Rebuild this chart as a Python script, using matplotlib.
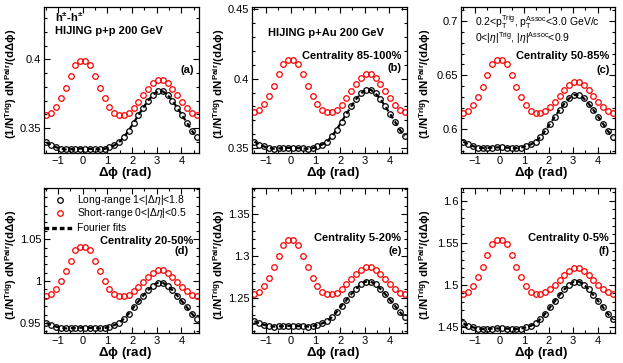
import numpy as np
import matplotlib
matplotlib.use("Agg")
import matplotlib.pyplot as plt
from matplotlib.ticker import MultipleLocator

plt.rcParams["font.family"] = ["Liberation Sans", "DejaVu Sans"]
plt.rcParams["mathtext.fontset"] = "custom"
plt.rcParams["mathtext.rm"] = "Liberation Sans"
plt.rcParams["mathtext.it"] = "Liberation Sans:italic"
plt.rcParams["mathtext.bf"] = "Liberation Sans:bold"

# 32 delta-phi bins over [-pi/2, 3pi/2)
N_BINS = 32
dphi = (np.arange(N_BINS) + 0.5) * (2 * np.pi / N_BINS) - np.pi / 2

# short-range (red) and long-range (black) per panel
a_red = [0.3597, 0.3612, 0.3655, 0.3720, 0.3795, 0.3880, 0.3960, 0.3990,
         0.3990, 0.3960, 0.3880, 0.3795, 0.3720, 0.3655, 0.3612, 0.3597,
         0.3597, 0.3612, 0.3645, 0.3690, 0.3740, 0.3785, 0.3825, 0.3852,
         0.3852, 0.3825, 0.3785, 0.3740, 0.3690, 0.3645, 0.3612, 0.3597]
a_blk = [0.3398, 0.3375, 0.3362, 0.3350, 0.3346, 0.3348, 0.3350, 0.3352,
         0.3352, 0.3350, 0.3348, 0.3346, 0.3350, 0.3362, 0.3375, 0.3398,
         0.3435, 0.3483, 0.3540, 0.3595, 0.3650, 0.3700, 0.3742, 0.3768,
         0.3768, 0.3742, 0.3700, 0.3650, 0.3595, 0.3540, 0.3483, 0.3435]

b_red = [0.3758, 0.3772, 0.3814, 0.3877, 0.3949, 0.4032, 0.4109, 0.4138,
         0.4138, 0.4109, 0.4032, 0.3949, 0.3877, 0.3814, 0.3772, 0.3758,
         0.3758, 0.3774, 0.3810, 0.3859, 0.3914, 0.3963, 0.4007, 0.4036,
         0.4036, 0.4007, 0.3963, 0.3914, 0.3859, 0.3810, 0.3774, 0.3758]
b_blk = [0.3546, 0.3525, 0.3511, 0.3499, 0.3495, 0.3497, 0.3499, 0.3501,
         0.3501, 0.3499, 0.3497, 0.3495, 0.3499, 0.3511, 0.3525, 0.3546,
         0.3585, 0.3633, 0.3691, 0.3746, 0.3801, 0.3852, 0.3894, 0.3920,
         0.3920, 0.3894, 0.3852, 0.3801, 0.3746, 0.3691, 0.3633, 0.3585]

c_red = [0.6147, 0.6166, 0.6220, 0.6301, 0.6394, 0.6501, 0.6601, 0.6638,
         0.6638, 0.6601, 0.6501, 0.6394, 0.6301, 0.6220, 0.6166, 0.6147,
         0.6147, 0.6164, 0.6202, 0.6254, 0.6311, 0.6362, 0.6408, 0.6439,
         0.6439, 0.6408, 0.6362, 0.6311, 0.6254, 0.6202, 0.6164, 0.6147]
c_blk = [0.5884, 0.5859, 0.5844, 0.5830, 0.5825, 0.5827, 0.5830, 0.5832,
         0.5832, 0.5830, 0.5827, 0.5825, 0.5830, 0.5844, 0.5859, 0.5884,
         0.5929, 0.5985, 0.6051, 0.6115, 0.6179, 0.6237, 0.6286, 0.6316,
         0.6316, 0.6286, 0.6237, 0.6179, 0.6115, 0.6051, 0.5985, 0.5929]

d_red = [0.9820, 0.9842, 0.9907, 1.0005, 1.0117, 1.0245, 1.0365, 1.0410,
         1.0410, 1.0365, 1.0245, 1.0117, 1.0005, 0.9907, 0.9842, 0.9820,
         0.9820, 0.9838, 0.9878, 0.9933, 0.9994, 1.0048, 1.0097, 1.0130,
         1.0130, 1.0097, 1.0048, 0.9994, 0.9933, 0.9878, 0.9838, 0.9820]
d_blk = [0.9500, 0.9473, 0.9456, 0.9440, 0.9435, 0.9438, 0.9440, 0.9443,
         0.9443, 0.9440, 0.9438, 0.9435, 0.9440, 0.9456, 0.9473, 0.9500,
         0.9550, 0.9612, 0.9686, 0.9757, 0.9827, 0.9892, 0.9946, 0.9980,
         0.9980, 0.9946, 0.9892, 0.9827, 0.9757, 0.9686, 0.9612, 0.9550]

e_red = [1.2541, 1.2565, 1.2636, 1.2742, 1.2864, 1.3004, 1.3135, 1.3184,
         1.3184, 1.3135, 1.3004, 1.2864, 1.2742, 1.2636, 1.2565, 1.2541,
         1.2541, 1.2560, 1.2602, 1.2659, 1.2721, 1.2778, 1.2829, 1.2863,
         1.2863, 1.2829, 1.2778, 1.2721, 1.2659, 1.2602, 1.2560, 1.2541]
e_blk = [1.2221, 1.2195, 1.2177, 1.2162, 1.2157, 1.2160, 1.2162, 1.2165,
         1.2165, 1.2162, 1.2160, 1.2157, 1.2162, 1.2177, 1.2195, 1.2221,
         1.2270, 1.2332, 1.2404, 1.2474, 1.2544, 1.2608, 1.2661, 1.2694,
         1.2694, 1.2661, 1.2608, 1.2544, 1.2474, 1.2404, 1.2332, 1.2270]

f_red = [1.4893, 1.4917, 1.4988, 1.5094, 1.5216, 1.5356, 1.5487, 1.5536,
         1.5536, 1.5487, 1.5356, 1.5216, 1.5094, 1.4988, 1.4917, 1.4893,
         1.4893, 1.4911, 1.4950, 1.5004, 1.5064, 1.5118, 1.5166, 1.5198,
         1.5198, 1.5166, 1.5118, 1.5064, 1.5004, 1.4950, 1.4911, 1.4893]
f_blk = [1.4544, 1.4515, 1.4497, 1.4482, 1.4476, 1.4479, 1.4482, 1.4484,
         1.4484, 1.4482, 1.4479, 1.4476, 1.4482, 1.4497, 1.4515, 1.4544,
         1.4595, 1.4659, 1.4735, 1.4809, 1.4882, 1.4949, 1.5005, 1.5040,
         1.5040, 1.5005, 1.4949, 1.4882, 1.4809, 1.4735, 1.4659, 1.4595]

panel_tags = ["(a)", "(b)", "(c)", "(d)", "(e)", "(f)"]
centralities = [None, "Centrality 85-100%", "Centrality 50-85%",
                "Centrality 20-50%", "Centrality 5-20%", "Centrality 0-5%"]
y_limits = [(0.332, 0.438), (0.3464, 0.4517), (0.578, 0.713),
            (0.938, 1.111), (1.208, 1.381), (1.443, 1.615)]
y_ticks = [[0.35, 0.4], [0.35, 0.4, 0.45], [0.6, 0.65, 0.7],
           [0.95, 1, 1.05], [1.25, 1.3, 1.35], [1.45, 1.5, 1.55, 1.6]]
y_ticklabels = [["0.35", "0.4"], ["0.35", "0.4", "0.45"], ["0.6", "0.65", "0.7"],
                ["0.95", "1", "1.05"], ["1.25", "1.3", "1.35"],
                ["1.45", "1.5", "1.55", "1.6"]]
reds = [a_red, b_red, c_red, d_red, e_red, f_red]
blks = [a_blk, b_blk, c_blk, d_blk, e_blk, f_blk]

W, H = 623, 363
fig = plt.figure(figsize=(W / 100, H / 100), dpi=100)

col_px = [(44, 199), (252, 407), (461, 615)]
row_px = [(7, 153), (188, 333)]
ylab_x = [-0.16, -0.16, -0.18]

YLAB = r"(1/N$^{\mathbf{Trig}}$) dN$^{\mathbf{Pair}}$/(d$\mathbf{\Delta\phi}$)"
XLAB = r"$\mathbf{\Delta\phi}$ (rad)"
MS = 4.0

axes = []
for i in range(6):
    r, c = divmod(i, 3)
    x0, x1 = col_px[c]
    y0, y1 = row_px[r]
    ax = fig.add_axes([x0 / W, 1 - y1 / H, (x1 - x0) / W, (y1 - y0) / H])
    axes.append(ax)

    ax.plot(dphi, blks[i], ls=(0, (2.2, 1.6)), lw=1.6, color="black", zorder=3)
    ax.plot(dphi, blks[i], ls="none", marker="o", ms=MS, mfc="none",
            mec="black", mew=0.9, zorder=2)
    ax.plot(dphi, reds[i], ls="none", marker="o", ms=MS, mfc="none",
            mec="red", mew=0.9, zorder=2)

    ax.set_xlim(-np.pi / 2, 3 * np.pi / 2)
    ax.set_ylim(*y_limits[i])
    ax.set_xticks([-1, 0, 1, 2, 3, 4])
    ax.set_xticklabels(["\u22121", "0", "1", "2", "3", "4"])
    ax.xaxis.set_minor_locator(MultipleLocator(0.5))
    ax.set_yticks(y_ticks[i])
    ax.set_yticklabels(y_ticklabels[i])
    ax.yaxis.set_minor_locator(MultipleLocator(0.01))
    ax.tick_params(which="both", direction="in", top=True, right=True,
                   labelsize=8, width=0.8)
    ax.tick_params(which="major", length=4, pad=2)
    ax.tick_params(which="minor", length=2)
    for sp in ax.spines.values():
        sp.set_linewidth(0.9)

    ax.set_ylabel(YLAB, fontsize=8.2, fontweight="bold")
    ax.yaxis.set_label_coords(ylab_x[c], 0.47)
    ax.set_xlabel(XLAB, fontsize=9.5, fontweight="bold")
    ax.xaxis.set_label_coords(0.52, -0.085)

    tag_y = 0.568 if i != 1 else 0.582
    ax.text(0.965 if i != 3 else 0.93, tag_y, panel_tags[i], transform=ax.transAxes,
            ha="right", va="center", fontsize=8, fontweight="bold")
    if centralities[i]:
        cy = 0.662 if i < 3 else 0.655
        if i == 3:
            cy = 0.637
        ax.text(0.962, cy, centralities[i], transform=ax.transAxes,
                ha="right", va="center", fontsize=8, fontweight="bold")

ax = axes[0]
ax.text(0.07, 0.925, r"h$^{\mathbf{\pm}}$-h$^{\mathbf{\pm}}$", transform=ax.transAxes,
        ha="left", va="center", fontsize=8, fontweight="bold")
ax.text(0.07, 0.836, "HIJING p+p 200 GeV", transform=ax.transAxes,
        ha="left", va="center", fontsize=8, fontweight="bold")

ax = axes[1]
ax.text(0.103, 0.822, "HIJING p+Au 200 GeV", transform=ax.transAxes,
        ha="left", va="center", fontsize=8, fontweight="bold")

ax = axes[2]
ax.text(0.09, 0.895, r"0.2<p$_{\rm T}^{\rm Trig}$, p$_{\rm T}^{\rm Assoc}$<3.0 GeV/c",
        transform=ax.transAxes, ha="left", va="center", fontsize=7.5)
ax.text(0.09, 0.79, r"0<|$\eta$|$^{\rm Trig}$, |$\eta$|$^{\rm Assoc}$<0.9",
        transform=ax.transAxes, ha="left", va="center", fontsize=7.5)

# hand-placed legend in panel (d)
ax = axes[3]
leg_rows = [(0.917, "black", r"Long-range 1<|$\Delta\eta$|<1.8"),
            (0.825, "red", r"Short-range 0<|$\Delta\eta$|<0.5")]
for yy, col, lab in leg_rows:
    ax.plot([0.103], [yy], transform=ax.transAxes, marker="o", ms=MS,
            mfc="none", mec=col, mew=0.9, clip_on=False)
    ax.text(0.21, yy, lab, transform=ax.transAxes, ha="left", va="center",
            fontsize=7.5)
ax.plot([0.0, 0.18], [0.726, 0.726], transform=ax.transAxes, color="black",
        ls=(0, (1.4, 0.9)), lw=2.4, clip_on=False)
ax.text(0.21, 0.726, "Fourier fits", transform=ax.transAxes, ha="left",
        va="center", fontsize=7.5)

fig.savefig("out.png", dpi=100)
